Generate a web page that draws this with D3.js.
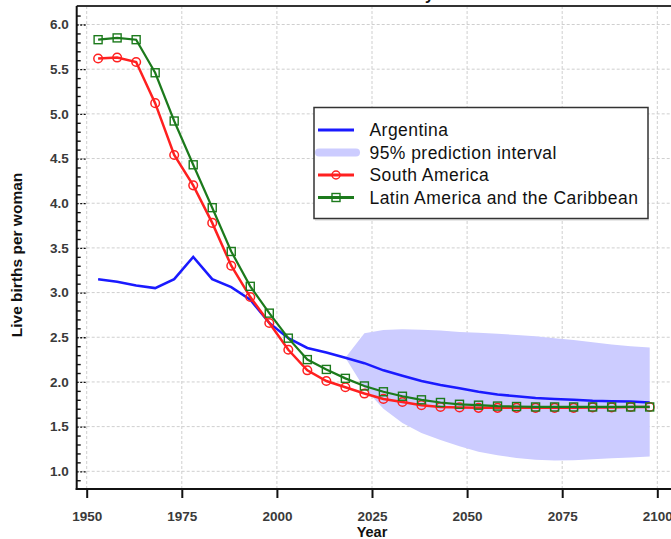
<!DOCTYPE html>
<html><head><meta charset="utf-8">
<script src="https://cdn.jsdelivr.net/npm/d3@7"></script>
<style>
body{margin:0;background:#fff;}
svg{display:block;font-family:"Liberation Sans",Arial,Helvetica,sans-serif;}
</style></head>
<body><svg id="c" width="671" height="539"></svg>
<script>
const years = [1953,1958,1963,1968,1973,1978,1983,1988,1993,1998,2003,2008,2013,2018,2023,2028,2033,2038,2043,2048,2053,2058,2063,2068,2073,2078,2083,2088,2093,2098];
const argentina = [3.15,3.12,3.08,3.05,3.15,3.40,3.15,3.06,2.92,2.66,2.49,2.38,2.33,2.27,2.21,2.13,2.07,2.01,1.965,1.93,1.89,1.86,1.84,1.82,1.81,1.80,1.79,1.785,1.78,1.77];
const southAmerica = [5.62,5.63,5.58,5.12,4.54,4.20,3.78,3.30,2.95,2.66,2.36,2.13,2.01,1.94,1.87,1.81,1.775,1.74,1.72,1.715,1.71,1.71,1.71,1.71,1.71,1.71,1.715,1.715,1.72,1.72];
const latinAmerica = [5.83,5.85,5.83,5.46,4.92,4.43,3.95,3.46,3.07,2.77,2.49,2.25,2.14,2.04,1.955,1.89,1.84,1.80,1.77,1.75,1.74,1.73,1.725,1.72,1.72,1.72,1.72,1.72,1.72,1.72];
const bandYears = [2018,2023,2028,2033,2038,2043,2048,2053,2058,2063,2068,2073,2078,2083,2088,2093,2098];
const bandUpper = [2.27,2.545,2.58,2.59,2.585,2.575,2.56,2.55,2.54,2.525,2.51,2.49,2.47,2.445,2.42,2.40,2.385];
const bandLower = [2.27,1.93,1.70,1.54,1.43,1.35,1.28,1.22,1.18,1.15,1.13,1.12,1.125,1.135,1.145,1.155,1.165];
const xTicks = [1950,1975,2000,2025,2050,2075,2100];
const yTicks = [1.0,1.5,2.0,2.5,3.0,3.5,4.0,4.5,5.0,5.5,6.0];
const yMinorTicks = [0.9,1.1,1.2,1.3,1.4,1.6,1.7,1.8,1.9,2.1,2.2,2.3,2.4,2.6,2.7,2.8,2.9,3.1,3.2,3.3,3.4,3.6,3.7,3.8,3.9,4.1,4.2,4.3,4.4,4.6,4.7,4.8,4.9,5.1,5.2,5.3,5.4,5.6,5.7,5.8,5.9,6.1];
const legendLabels = ["Argentina","95% prediction interval","South America","Latin America and the Caribbean"];
const title = "Total Fertility";

const C = {blue:"#1a1aff", band:"#ccccff", red:"#ff2020", green:"#1c7a1c"};
const svg = d3.select("#c");
const L = 76.7, R = 700, T = 6, B = 489;
const x = d3.scaleLinear().domain([1950,2100]).range([86.7,657.3]);
const y = d3.scaleLinear().domain([1,6]).range([471.3,24.5]);

// title (mostly clipped at top, as in the reference)
svg.append("text").attr("x",434).attr("y",0).attr("text-anchor","end")
  .attr("font-size",16).attr("font-weight","bold").attr("fill","#111").text(title);

// grid
const grid = svg.append("g").attr("stroke","#cfcfcf").attr("stroke-width",1).attr("stroke-dasharray","3,2");
grid.selectAll("line.v").data(xTicks).join("line").attr("x1",d=>x(d)).attr("x2",d=>x(d)).attr("y1",T).attr("y2",B);
grid.selectAll("line.h").data(yTicks).join("line").attr("x1",L).attr("x2",R).attr("y1",d=>y(d)).attr("y2",d=>y(d));

// band
const bandData = bandYears.map((yr,i)=>({yr,lo:bandLower[i],hi:bandUpper[i]}));
svg.append("path").datum(bandData).attr("fill",C.band).attr("stroke","none")
  .attr("d",d3.area().x(d=>x(d.yr)).y0(d=>y(d.lo)).y1(d=>y(d.hi)));

const line = d3.line().x(d=>x(d[0])).y(d=>y(d[1]));
const zip = arr => years.map((yr,i)=>[yr,arr[i]]);

svg.append("path").datum(zip(argentina)).attr("fill","none").attr("stroke",C.blue).attr("stroke-width",2.5).attr("d",line);
svg.append("path").datum(zip(southAmerica)).attr("fill","none").attr("stroke",C.red).attr("stroke-width",2.5).attr("d",line);
svg.append("g").selectAll("circle").data(zip(southAmerica)).join("circle")
  .attr("cx",d=>x(d[0])).attr("cy",d=>y(d[1])).attr("r",4.3)
  .attr("fill","none").attr("stroke",C.red).attr("stroke-width",1.5);
svg.append("path").datum(zip(latinAmerica)).attr("fill","none").attr("stroke",C.green).attr("stroke-width",2.2).attr("d",line);
svg.append("g").selectAll("rect").data(zip(latinAmerica)).join("rect")
  .attr("x",d=>x(d[0])-4).attr("y",d=>y(d[1])-4).attr("width",8).attr("height",8)
  .attr("fill","none").attr("stroke",C.green).attr("stroke-width",1.4);

// frame top
svg.append("line").attr("x1",L).attr("x2",R).attr("y1",T).attr("y2",T).attr("stroke","#333").attr("stroke-width",2);

// y axis labels
const yAx = svg.append("g").attr("transform",`translate(${L},0)`)
  .call(d3.axisLeft(y).tickValues(yTicks).tickSize(0).tickPadding(8).tickFormat(d3.format(".1f")));
yAx.select(".domain").remove();
yAx.selectAll("text").attr("font-size",13.5).attr("font-weight","bold").attr("fill","#3a3a3a").attr("font-family","Liberation Sans, Arial, sans-serif");
// minor ticks inward
const yMin = svg.append("g").attr("transform",`translate(${L},0)`)
  .call(d3.axisRight(y).tickValues(yMinorTicks).tickSize(4).tickFormat(""));
yMin.select(".domain").remove();
yMin.selectAll("line").attr("stroke","#111").attr("stroke-width",1.4);
const yMaj = svg.append("g").attr("transform",`translate(${L},0)`)
  .call(d3.axisRight(y).tickValues(yTicks).tickSize(10).tickFormat(""));
yMaj.select(".domain").remove();
yMaj.selectAll("line").attr("stroke","#111").attr("stroke-width",1.3).attr("stroke-dasharray","2,1.5");

// x axis
const xAx = svg.append("g").attr("transform",`translate(0,${B})`)
  .call(d3.axisBottom(x).tickValues(xTicks).tickSize(9).tickPadding(13).tickFormat(d3.format("d")));
xAx.select(".domain").remove();
xAx.selectAll("line").attr("stroke","#111").attr("stroke-width",2);
xAx.selectAll("text").attr("font-size",13.5).attr("font-weight","bold").attr("fill","#3a3a3a").attr("font-family","Liberation Sans, Arial, sans-serif");

// axis lines
svg.append("line").attr("x1",L).attr("x2",L).attr("y1",T).attr("y2",B+1).attr("stroke","#111").attr("stroke-width",2);
svg.append("line").attr("x1",L-1).attr("x2",R).attr("y1",B).attr("y2",B).attr("stroke","#111").attr("stroke-width",2);

// axis titles
svg.append("text").attr("x",372).attr("y",537).attr("text-anchor","middle")
  .attr("font-size",14.5).attr("font-weight","bold").attr("fill","#111").text("Year");
svg.append("text").attr("transform","translate(22,255) rotate(-90)").attr("text-anchor","middle")
  .attr("font-size",15.5).attr("font-weight","bold").attr("fill","#111").text("Live births per woman");

// legend
const lg = svg.append("g");
lg.append("line").attr("x1",315).attr("x2",649).attr("y1",220).attr("y2",220).attr("stroke","#e0e0e0").attr("stroke-width",1.5);
lg.append("rect").attr("x",314).attr("y",107.5).attr("width",334).attr("height",111)
  .attr("fill","#fff").attr("stroke","#333").attr("stroke-width",1.5);
const rowY = [130,152.5,175,197.5];
lg.append("line").attr("x1",318).attr("x2",354).attr("y1",rowY[0]).attr("y2",rowY[0]).attr("stroke",C.blue).attr("stroke-width",3);
lg.append("line").attr("x1",319).attr("x2",356).attr("y1",rowY[1]).attr("y2",rowY[1]).attr("stroke",C.band).attr("stroke-width",8).attr("stroke-linecap","round");
lg.append("line").attr("x1",318).attr("x2",354).attr("y1",rowY[2]).attr("y2",rowY[2]).attr("stroke",C.red).attr("stroke-width",3);
lg.append("circle").attr("cx",336).attr("cy",rowY[2]).attr("r",4).attr("fill","none").attr("stroke",C.red).attr("stroke-width",1.5);
lg.append("line").attr("x1",318).attr("x2",354).attr("y1",rowY[3]).attr("y2",rowY[3]).attr("stroke",C.green).attr("stroke-width",3);
lg.append("rect").attr("x",332).attr("y",rowY[3]-4).attr("width",8).attr("height",8).attr("fill","none").attr("stroke",C.green).attr("stroke-width",1.4);
lg.selectAll("text.l").data(legendLabels).join("text")
  .attr("x",369.5).attr("y",(d,i)=>rowY[i]+6).attr("font-size",17.5).attr("letter-spacing","0.45px")
  .attr("fill","#111").text(d=>d);
</script></body></html>
